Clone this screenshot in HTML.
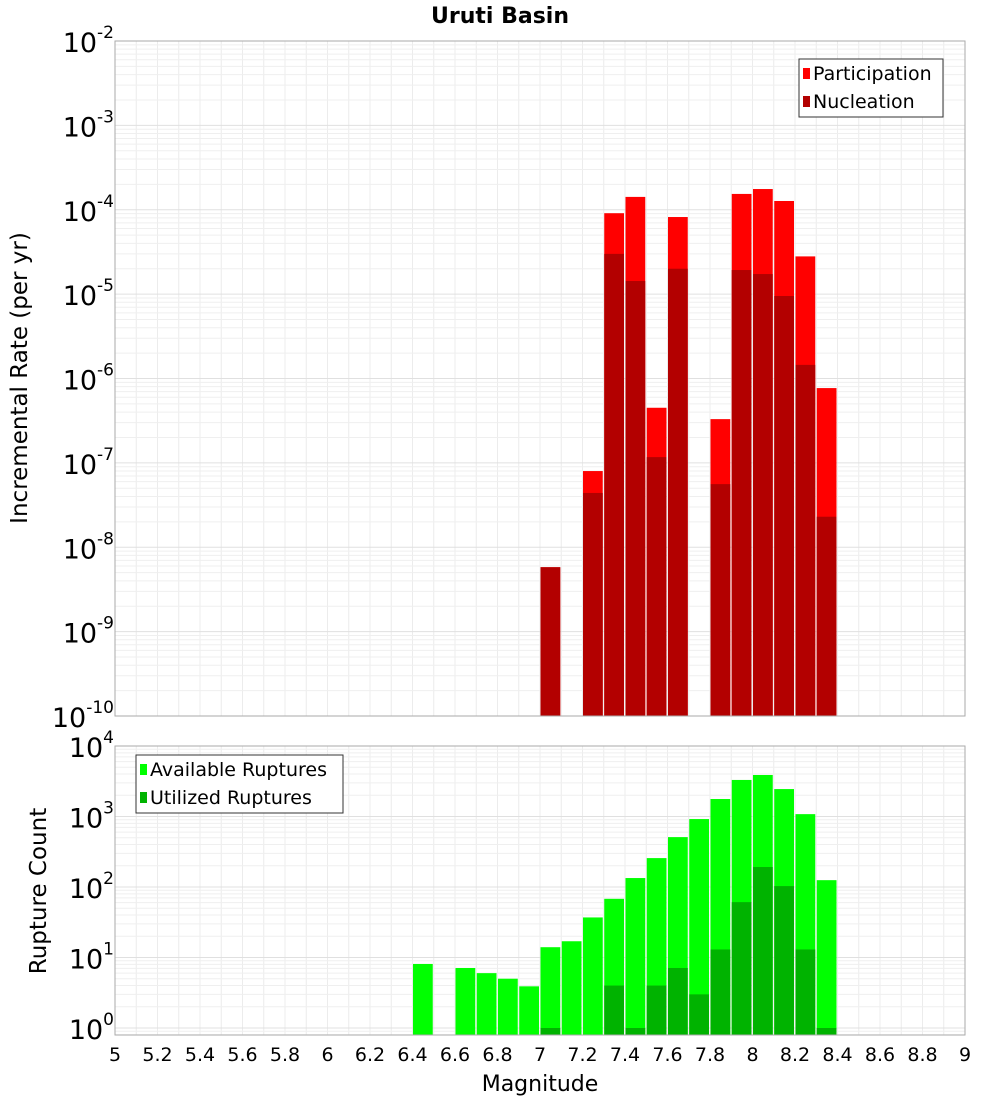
<!DOCTYPE html>
<html><head><meta charset="utf-8"><style>
body{margin:0;background:#fff}
svg{font-family:"DejaVu Sans","Liberation Sans",sans-serif}
</style></head><body>
<svg id="c" width="1000" height="1100" xmlns="http://www.w3.org/2000/svg"></svg>
<script>
const mags=[6.4,6.5,6.6,6.7,6.8,6.9,7.0,7.1,7.2,7.3,7.4,7.5,7.6,7.7,7.8,7.9,8.0,8.1,8.2,8.3];
const participation=[0,0,0,0,0,0,5.8e-9,0,8.0e-8,9.1e-5,1.42e-4,4.5e-7,8.2e-5,0,3.3e-7,1.54e-4,1.76e-4,1.27e-4,2.8e-5,7.7e-7];
const nucleation=[0,0,0,0,0,0,5.8e-9,0,4.4e-8,3.0e-5,1.43e-5,1.17e-7,2.0e-5,0,5.6e-8,1.93e-5,1.73e-5,9.5e-6,1.45e-6,2.3e-8];
const available=[8.1,0,7.1,6.0,5.0,3.9,14,17,37,68,134,257,510,920,1770,3300,3880,2450,1080,125];
const utilized=[0,0,0,0,0,0,1,0,0,4,1,4,7.1,3,13,61,192,103,13,1];
const xTicks=[5,5.2,5.4,5.6,5.8,6,6.2,6.4,6.6,6.8,7,7.2,7.4,7.6,7.8,8,8.2,8.4,8.6,8.8,9];
const topExps=[-2,-3,-4,-5,-6,-7,-8,-9,-10];
const botExps=[4,3,2,1,0];

const svg=document.getElementById('c');const NS='http://www.w3.org/2000/svg';
function mk(t,a,p){const e=document.createElementNS(NS,t);for(const k in a)e.setAttribute(k,a[k]);(p||svg).appendChild(e);return e;}
const L=115,R=965;
const X=m=>L+(m-5)*(R-L)/4;
const T0=41,T1=716,Yt=v=>T0+(-2-Math.log10(v))*(T1-T0)/8;
const B0=746,B1=1035,dec=70.5,Yb=v=>1028-Math.log10(v)*dec;

function grid(y0,y1,yfn,lo,hi){
  const g=mk('g',{});
  for(let m=5;m<=9.001;m+=0.1){mk('line',{x1:X(m),x2:X(m),y1:y0,y2:y1,stroke:'#ececec','stroke-width':1},g);}
  for(let e=lo;e<=hi;e++)for(let k=1;k<10;k++){const y=yfn(k*Math.pow(10,e));if(y<y0||y>y1)continue;
    mk('line',{x1:L,x2:R,y1:y,y2:y,stroke:k==1?'#e0e0e0':'#efefef','stroke-width':1},g);}
}
grid(T0,T1,Yt,-10,-3);grid(B0,B1,Yb,-1,3);

const bw=(R-L)/40;
mags.forEach((m,i)=>{
  if(participation[i]>0){const r=mk('rect',{x:X(m)+0.5,y:Yt(participation[i]),width:bw-1.5,height:T1-Yt(participation[i]),fill:'#ff0000'});
  }
  if(nucleation[i]>0){const r=mk('rect',{x:X(m)+0.5,y:Yt(nucleation[i]),width:bw-1.5,height:T1-Yt(nucleation[i]),fill:'#b30000'});
  }
  if(available[i]>0){const r=mk('rect',{x:X(m)+0.5,y:Yb(available[i]),width:bw-1.5,height:B1-Yb(available[i]),fill:'#00ff00'});
  }
  if(utilized[i]>0){const r=mk('rect',{x:X(m)+0.5,y:Yb(utilized[i]),width:bw-1.5,height:B1-Yb(utilized[i]),fill:'#00b300'});
  }
});
mk('rect',{x:L,y:T0,width:R-L,height:T1-T0,fill:'none',stroke:'#aaa'});
mk('rect',{x:L,y:B0,width:R-L,height:B1-B0,fill:'none',stroke:'#aaa'});

function sup(x,y,e){const t=mk('text',{x:x,y:y,'text-anchor':'end','font-size':27,fill:'#000'});
  
  const a=mk('tspan',{},t);a.textContent='10';const b=mk('tspan',{dy:-14,'font-size':17},t);b.textContent=e;return t;}
topExps.forEach(e=>sup(114,Yt(Math.pow(10,e))+11,e));
botExps.forEach(e=>sup(114,Yb(Math.pow(10,e))+11,e));
xTicks.forEach(v=>{const t=mk('text',{x:X(v),y:1061,'text-anchor':'middle','font-size':19});t.textContent=String(v);
  });

function txt(s,a,name){const t=mk('text',a);t.textContent=s;return t;}
txt('Uruti Basin',{x:500,y:23,'text-anchor':'middle','font-size':22,'font-weight':'bold'},'chart-title');
txt('Magnitude',{x:540,y:1091,'text-anchor':'middle','font-size':22},'x-axis-title');
txt('Incremental Rate (per yr)',{x:0,y:0,'text-anchor':'middle','font-size':23,transform:'translate(27,378) rotate(-90)'},'y-axis-title-top');
txt('Rupture Count',{x:0,y:0,'text-anchor':'middle','font-size':23,transform:'translate(46,891) rotate(-90)'},'y-axis-title-bottom');

function legend(x,y,w,items,name){const g=mk('g',{});
  mk('rect',{x:x,y:y,width:w,height:58,fill:'#fff',stroke:'#333'},g);
  items.forEach((it,i)=>{mk('rect',{x:x+4,y:y+9+i*28,width:7,height:11,fill:it[1]},g);
    const t=mk('text',{x:x+14,y:y+21+i*28,'font-size':19},g);t.textContent=it[0];});}
legend(799,59,144,[['Participation','#ff0000'],['Nucleation','#b30000']],'legend-top');
legend(136,755,207,[['Available Ruptures','#00ff00'],['Utilized Ruptures','#00b300']],'legend-bottom');
</script>
</body></html>
